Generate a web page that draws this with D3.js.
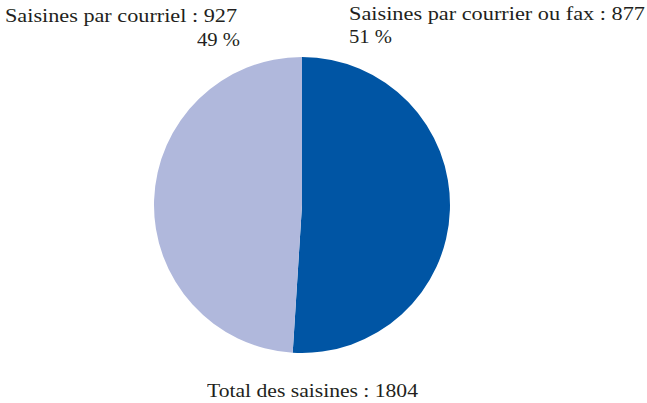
<!DOCTYPE html>
<html>
<head>
<meta charset="utf-8">
<script src="https://cdn.jsdelivr.net/npm/d3@7"></script>
<style>
	body { margin: 0; background: #fff; }
	#wrap { position: relative; width: 647px; height: 403px; }
	#chart { position: absolute; left: 0; top: 0; }
	.lbl { position: absolute; white-space: nowrap; font-family: 'Liberation Serif', serif; font-size: 19.5px; line-height: 1; color: #231f20; transform-origin: 0 0; }
</style>
</head>
<body>
<div id="wrap"><svg id="chart" width="647" height="403"></svg></div>
<script>
const labels = ['Saisines par courrier ou fax : 877', 'Saisines par courriel : 927'];
const shares = [51, 49];
const colors = ['#0055a4', '#b0b8dc'];
const total = 'Total des saisines : 1804';

const svg = d3.select('#chart');
const cx = 302, cy = 205, r = 148;

const pie = d3.pie().sort(null).value((d) => d);
const arc = d3.arc().innerRadius(0).outerRadius(r);

svg.append('g')
	.attr('transform', 'translate(' + cx + ',' + cy + ')')
	.selectAll('path')
	.data(pie(shares))
	.enter().append('path')
	.attr('fill', (d, i) => colors[i])
	.attr('d', arc);

// html labels, stretched to the width seen in the reference
function label(x, top, str, width) {
	const d = d3.select('#wrap').append('div')
		.attr('class', 'lbl')
		.style('left', x + 'px')
		.style('top', top + 'px')
		.text(str);
	const w = d.node().getBoundingClientRect().width;
	d.style('transform', 'scaleX(' + (width / w) + ')');
	return d;
}

// right label (first slice)
label(349, 4, labels[0], 296);
label(349, 27, shares[0] + ' %', 43);

// left label (second slice)
label(5, 6, labels[1], 232);
label(197, 30, shares[1] + ' %', 43);

label(207, 381, total, 211);
</script>
</body>
</html>
